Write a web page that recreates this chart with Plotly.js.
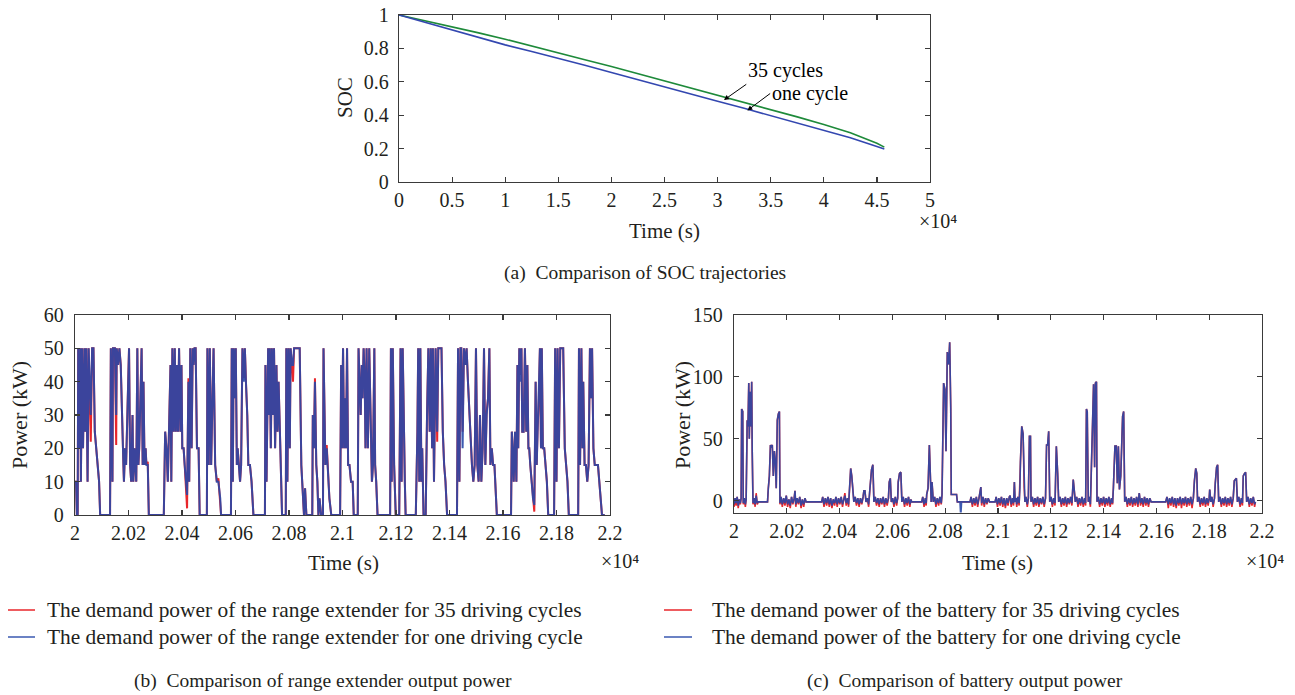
<!DOCTYPE html>
<html>
<head>
<meta charset="utf-8">
<script src="https://cdn.plot.ly/plotly-3.0.1.min.js"></script>
<style>
html,body{margin:0;padding:0;background:#fff;}
#chart{width:1295px;height:695px;}
</style>
</head>
<body>
<div id="chart"></div>
<script>
// ---------- (a) SOC trajectories ----------
const socTime = [0,2500,5000,7500,10000,12500,15000,17500,20000,22500,25000,27500,30000,32500,35000,37500,40000,42500,45000,45700];
const soc35Cycles = [1.0,0.965,0.93,0.893,0.855,0.813,0.771,0.732,0.692,0.649,0.606,0.565,0.523,0.478,0.433,0.39,0.344,0.295,0.232,0.209];
const socOneCycle = [1.0,0.955,0.907,0.864,0.821,0.781,0.742,0.699,0.656,0.612,0.569,0.526,0.483,0.441,0.398,0.355,0.31,0.265,0.212,0.198];
const socTickVals = [0,5000,10000,15000,20000,25000,30000,35000,40000,45000,50000];
const socTickText = ['0','0.5','1','1.5','2','2.5','3','3.5','4','4.5','5'];
const socYTickVals = [0,0.2,0.4,0.6,0.8,1];
const socYTickText = ['0','0.2','0.4','0.6','0.8','1'];

// ---------- (b) range extender power ----------
const reTime = [
20000,20004,20007,20010,20012,20016,20020,20022,20026,20030,20035,20038,20042,20047,20051,20059,20064,20069,20074,20079,20084,20090,20094,20131,20134,20140,20142,20149,20154,20156,
20161,20166,20171,20175,20177,20181,20183,20187,20191,20196,20202,20206,20210,20215,20218,20222,20225,20229,20233,20237,20240,20245,20249,20253,20256,20260,20264,20267,20272,20276,
20332,20337,20342,20347,20352,20357,20360,20364,20369,20373,20377,20381,20385,20389,20394,20398,20401,20406,20410,20414,20419,20424,20427,20431,20436,20440,20443,20447,20451,20456,
20462,20466,20493,20495,20500,20504,20509,20514,20518,20524,20530,20536,20543,20546,20583,20586,20590,20593,20597,20601,20605,20608,20613,20617,20621,20626,20631,20635,20639,20644,
20648,20654,20660,20667,20710,20712,20716,20722,20726,20728,20732,20736,20741,20744,20748,20753,20757,20761,20766,20769,20774,20788,20790,20794,20798,20803,20806,20811,20815,20819,
20840,20846,20852,20856,20860,20865,20887,20889,20893,20897,20902,20906,20910,20914,20920,20927,20929,20933,20936,20941,20946,20951,20958,20991,20995,20998,21002,21006,21010,21013,
21017,21021,21026,21032,21038,21042,21057,21060,21064,21068,21072,21075,21079,21083,21086,21090,21095,21100,21105,21110,21114,21119,21122,21126,21131,21178,21181,21184,21188,21193,
21199,21212,21217,21221,21225,21229,21233,21236,21274,21280,21283,21287,21291,21295,21298,21303,21311,21316,21321,21326,21330,21335,21338,21342,21348,21354,21358,21370,21375,21380,
21385,21391,21428,21432,21437,21441,21444,21449,21454,21459,21464,21469,21474,21479,21484,21489,21494,21499,21504,21509,21514,21519,21524,21529,21534,21539,21544,21549,21553,21558,
21563,21568,21573,21577,21630,21633,21636,21640,21645,21650,21654,21657,21661,21665,21669,21672,21677,21682,21687,21691,21695,21698,21702,21707,21712,21717,21722,21726,21729,21734,
21738,21742,21745,21749,21754,21759,21764,21769,21791,21795,21800,21804,21809,21814,21825,21831,21836,21841,21846,21881,21884,21888,21893,21897,21900,21905,21910,21915,21920,21925,
21929,21933,21938,21943,21949,21955,21960,21965,21970,21980];
const reOneCycle = [
10,10,0,0,50,20,50,10,50,20,50,25,50,10,50,30,50,50,25,20,15,10,0,0,50,10,50,50,30,50,
45,50,45,30,20,15,10,20,15,35,50,15,10,30,10,20,15,10,50,15,20,35,50,15,40,15,20,15,15,0,
0,25,20,10,25,45,10,50,25,50,25,45,25,50,25,45,20,20,15,10,6,40,10,50,20,50,45,50,50,20,
20,0,0,50,15,50,15,35,50,15,10,10,5,0,0,50,10,50,35,50,15,20,15,10,15,50,40,50,40,30,
15,15,10,0,0,45,10,50,30,50,20,50,30,50,20,45,25,40,25,15,0,0,50,10,50,20,50,45,45,50,
50,15,5,0,8,0,0,30,20,40,15,10,0,5,0,0,50,20,15,20,10,5,0,0,45,20,50,20,35,20,
50,15,15,10,10,0,0,50,40,30,45,35,50,40,20,50,20,50,30,10,15,50,15,10,0,0,50,10,50,15,
0,0,50,10,50,20,10,0,0,25,50,10,50,10,20,0,0,30,50,25,50,20,50,10,50,25,50,50,25,15,
10,0,0,50,10,50,50,20,50,45,50,40,30,20,15,10,15,50,15,10,30,10,20,50,15,30,35,50,15,20,
15,15,5,0,0,25,20,10,25,10,45,20,50,40,50,25,25,50,25,45,20,20,15,10,5,3,40,15,25,35,
50,20,50,20,20,15,10,0,0,50,10,50,20,50,50,20,15,10,0,0,50,15,50,20,40,15,15,10,15,50,
35,50,20,15,15,15,10,5,0,0];
const re35Cycles = [
10,10,0,0,50,20,50,10,50,20,50,25,50,10,50,22,50,50,25,20,15,10,0,0,50,10,50,50,21,50,
45,50,45,30,20,15,10,20,15,35,50,15,10,30,10,20,15,10,50,15,20,36,50,15,40,15,20,15,16,0,
0,25,20,10,26,45,10,50,25,50,25,45,25,50,25,45,20,20,15,10,2,41,10,50,20,50,45,50,50,20,
20,0,0,50,15,50,15,35,50,15,10,11,5,0,0,50,10,50,35,50,15,20,15,10,15,50,41,50,40,30,
15,15,10,0,0,45,10,50,30,50,20,50,30,50,20,45,25,40,25,15,0,0,50,10,50,20,50,45,40,50,
50,15,5,0,8,0,0,30,20,41,15,10,0,5,0,0,50,20,15,21,10,5,0,0,45,20,50,20,35,20,
50,15,15,10,10,0,0,50,40,30,45,35,50,42,20,50,20,50,30,10,15,50,15,10,0,0,50,10,50,15,
0,0,50,10,50,20,10,0,0,25,50,10,50,10,20,0,0,30,50,25,50,20,50,10,50,22,50,50,25,15,
10,0,0,50,10,50,50,25,50,45,50,40,30,20,15,10,15,50,15,10,30,10,20,50,15,31,35,50,15,20,
15,15,5,0,0,25,20,10,25,10,45,20,50,42,50,25,25,50,25,45,20,20,15,10,5,1,40,15,25,35,
50,20,50,20,20,15,10,0,0,50,10,50,20,50,50,20,15,10,0,0,50,15,50,20,40,15,15,10,15,50,
35,50,20,15,15,15,10,5,0,0];
const reYTickVals = [0,10,20,30,40,50,60];
const reYTickText = ['0','10','20','30','40','50','60'];

// ---------- (c) battery power ----------
const batTime = [
19995,20000,20004,20008,20012,20016,20020,20024,20027,
20029,20033,20035,20039,20043,20046,
20048,20050,20053,20056,20058,20061,20064,20067,20069,20072,
20076,20080,20084,20088,20092,20127,
20130,20134,20138,20141,20145,20149,20153,20157,20160,20164,20168,20172,20174,
20178,20183,20188,20193,20198,20203,20208,20213,20218,20223,20228,20231,20234,20239,20244,20249,20254,20259,20264,20269,20273,
20332,20336,20341,20346,20351,20356,20361,20366,20371,20376,20381,20386,20391,20396,20401,20406,20411,20416,20420,20425,20430,20434,
20437,20442,20446,20449,20454,20459,20464,20469,20474,20479,20484,20489,
20492,20496,20500,20505,20510,20515,20521,20526,20530,
20535,20540,20545,20550,20555,20560,20565,20570,20575,20580,20585,20588,20592,20596,
20601,20606,20611,20616,20620,20622,20627,20632,20636,
20641,20646,20651,20656,20661,20666,20670,20673,20711,20715,20720,20725,20728,
20730,20735,20740,20744,20747,20750,20755,
20760,20765,20770,20775,20780,20785,
20788,20790,20794,20799,20803,20808,20813,20817,20821,20823,20843,20846,20856,20858,20860,20862,20894,
20898,20903,20908,20913,20918,20923,20928,20935,20938,20943,20948,20953,20958,20963,20968,20989,
20993,20998,21003,21008,21013,21018,21023,21028,21033,21038,21043,21046,21050,21055,21059,
21062,21065,21068,21071,21075,21080,21083,21085,21090,21095,21099,21102,
21106,21111,21115,21119,21123,21125,
21130,21135,21140,21145,21150,21155,21160,21165,21170,21175,21180,
21184,21188,21192,21196,21201,21206,21211,21216,21221,21226,21230,
21235,21240,21245,21250,21255,21260,21265,21270,21275,21280,21285,21290,21293,
21298,21303,21308,21313,21318,21323,21328,21332,21335,21338,21342,21346,21350,
21355,21359,21362,21366,21369,21373,21375,
21380,21385,21390,21395,21400,21405,21410,21415,21420,21425,21430,21434,
21437,21443,21448,21452,21456,21460,21465,21469,21472,21476,21480,
21485,21490,21495,21500,21505,21510,21515,21520,21525,21530,21535,21540,21545,21550,21555,21560,21565,21570,21575,21580,21635,
21640,21645,21650,21655,21660,21665,21670,21675,21680,21685,21690,21695,21700,21705,21710,21715,21720,21725,21730,21735,21740,
21744,21749,21753,21756,21761,21766,21771,21776,21781,21786,21791,21796,21800,21802,21806,
21810,21815,21820,21823,21828,21832,21836,
21841,21846,21851,21856,21861,21866,21871,21876,21881,21886,21891,21895,21899,21903,21907,
21912,21917,21922,21926,21929,21934,21938,21942,21947,21952,21957,21962,21967,21972,21975];
const batOneCycle = [
1,-3,2,-2,3,-4,1,-2,2,
74,72,-2,2,-3,1,
40,65,60,95,50,88,60,96,40,-2,
2,-3,4,-2,-1,-1,
10,20,45,43,45,20,40,30,10,65,70,72,-2,
3,-3,2,-2,4,-3,1,-4,3,-2,2,8,-3,2,-2,3,-4,1,-3,2,-1,
-1,3,-3,2,-2,3,-3,2,-4,1,-2,3,-3,2,-2,3,-3,2,4,-2,2,-3,
10,26,20,10,-1,3,-2,2,-3,2,-2,3,
8,8,-1,2,-3,10,25,29,-1,
3,-2,2,-3,2,-2,3,-3,2,-2,2,15,18,-1,
2,-3,3,-2,2,15,22,23,-1,
3,-3,2,-2,3,-3,1,-1,-1,3,-3,2,-2,
5,10,45,15,-1,15,-1,
3,-3,2,-2,3,-2,
5,55,95,90,40,120,110,128,75,5,5,-1,-1,-9,-9,-1,-1,
3,-3,2,-2,3,-3,2,11,-2,3,-3,2,-2,2,-1,-1,
3,-3,2,-2,3,-3,2,-4,2,-2,3,4,-3,2,-2,
15,-1,2,-3,3,-2,10,31,60,54,11,-1,
3,-3,2,52,52,-1,
3,-3,2,-2,3,-3,2,-2,3,-3,2,
45,45,56,-1,3,-3,2,-2,44,22,-1,
3,-3,2,-2,3,-3,2,-2,3,-2,17,7,-1,
3,-3,2,-2,3,-3,2,-2,74,72,-1,3,-3,
49,66,94,27,95,96,-1,
3,-3,2,-2,3,-3,2,-2,3,-3,2,-2,
10,44,44,14,44,9,20,60,68,72,-1,
3,-3,2,-2,3,-3,2,-2,3,-3,6,-2,2,-3,3,-2,2,-3,2,-1,-1,
3,-3,2,-2,3,-3,2,-4,2,-2,3,-3,2,-2,3,-3,2,-2,3,-3,2,
16,26,22,-1,3,-3,2,-2,3,-3,2,-2,2,9,-1,
3,-3,2,14,27,29,-1,
3,-3,2,-2,3,-3,2,-2,3,-3,2,16,17,18,-1,
3,-3,2,-2,20,22,23,-1,3,-3,2,-2,3,-3,-1];
const bat35Cycles = [
1,-5,2,-4,3,-6,1,-3,2,
74,72,-3,2,-5,1,
40,65,60,95,50,88,60,96,40,-3,
2,-5,6,-3,-1,-1,
10,20,45,43,45,20,40,30,10,65,70,72,-3,
3,-5,2,-4,4,-5,1,-6,3,-3,2,8,-5,2,-3,3,-6,1,-5,2,-1,
-1,3,-5,2,-4,3,-5,2,-6,1,-4,3,-5,2,-3,3,-5,2,6,-4,2,-5,
10,26,20,10,-1,3,-4,2,-5,2,-3,3,
8,8,-1,2,-5,10,25,29,-1,
3,-4,2,-5,2,-3,3,-5,2,-4,2,15,18,-1,
2,-5,3,-4,2,15,22,23,-1,
3,-5,2,-4,3,-5,1,-1,-1,3,-5,2,-4,
5,10,45,15,-1,15,-1,
3,-5,2,-4,3,-3,
5,55,95,90,40,120,110,128,75,5,5,-1,-1,-1,-1,-1,-1,
3,-5,2,-4,3,-5,2,11,-4,3,-5,2,-3,2,-1,-1,
3,-5,2,-4,3,-5,2,-6,2,-4,3,4,-5,2,-4,
15,-1,2,-5,3,-4,10,31,60,54,11,-1,
3,-5,2,52,52,-1,
3,-5,2,-4,3,-5,2,-3,3,-5,2,
45,45,56,-1,3,-5,2,-4,44,22,-1,
3,-5,2,-4,3,-5,2,-3,3,-4,17,7,-1,
3,-5,2,-4,3,-5,2,-4,74,72,-1,3,-5,
49,66,94,27,95,96,-1,
3,-5,2,-4,3,-5,2,-4,3,-5,2,-3,
10,44,44,14,44,9,20,60,68,72,-1,
3,-5,2,-4,3,-5,2,-4,3,-5,6,-4,2,-5,3,-4,2,-5,2,-1,-1,
3,-6,2,-4,3,-5,2,-6,2,-4,3,-6,2,-4,3,-5,2,-4,3,-6,2,
16,26,22,-1,3,-5,2,-4,3,-5,2,-4,2,9,-1,
3,-5,2,14,27,29,-1,
3,-5,2,-4,3,-5,2,-4,3,-5,2,16,17,18,-1,
3,-5,2,-4,20,22,23,-1,3,-5,2,-4,3,-5,-1];
const batYTickVals = [0,50,100,150];
const batYTickText = ['0','50','100','150'];

const powTickVals = [20000,20200,20400,20600,20800,21000,21200,21400,21600,21800,22000];
const powTickText = ['2','2.02','2.04','2.06','2.08','2.1','2.12','2.14','2.16','2.18','2.2'];

const legendB = ['The demand power of the range extender for 35 driving cycles','The demand power of the range extender for one driving cycle'];
const legendC = ['The demand power of the battery for 35 driving cycles','The demand power of the battery for one driving cycle'];
const captions = ['(a)  Comparison of SOC trajectories','(b)  Comparison of range extender output power','(c)  Comparison of battery output power'];

// ---------- drawing ----------
const W = 1295, H = 695;
const px = v => v / W;
const py = v => 1 - v / H;
const FONT = 'Liberation Serif, Times New Roman, serif';
const INK = '#231f20';
const RED = '#e8262b';
const BLUE = 'rgba(40,72,168,0.9)';

const traces = [
  {x: socTime, y: soc35Cycles, xaxis: 'x', yaxis: 'y', type: 'scatter', mode: 'lines', line: {color: '#1e8a3a', width: 1.6}, hoverinfo: 'skip'},
  {x: socTime, y: socOneCycle, xaxis: 'x', yaxis: 'y', type: 'scatter', mode: 'lines', line: {color: '#3347b0', width: 1.6}, hoverinfo: 'skip'},
  {x: reTime, y: re35Cycles, xaxis: 'x2', yaxis: 'y2', type: 'scatter', mode: 'lines', line: {color: RED, width: 2}, hoverinfo: 'skip'},
  {x: reTime, y: reOneCycle, xaxis: 'x2', yaxis: 'y2', type: 'scatter', mode: 'lines', line: {color: BLUE, width: 2}, hoverinfo: 'skip'},
  {x: batTime, y: bat35Cycles, xaxis: 'x3', yaxis: 'y3', type: 'scatter', mode: 'lines', line: {color: RED, width: 1.6}, hoverinfo: 'skip'},
  {x: batTime, y: batOneCycle, xaxis: 'x3', yaxis: 'y3', type: 'scatter', mode: 'lines', line: {color: BLUE, width: 1.6}, hoverinfo: 'skip'}
];

function ax(extra) {
  return Object.assign({
    showline: true, linecolor: '#3a3a3a', linewidth: 1.3, mirror: 'ticks',
    ticks: 'inside', ticklen: 5, tickwidth: 1.2, tickcolor: '#3a3a3a',
    showgrid: false, zeroline: false, fixedrange: true,
    tickfont: {family: FONT, size: 20, color: INK}, tickmode: 'array'
  }, extra);
}

const annotations = [];
function txt(text, x, y, size, opts) {
  annotations.push(Object.assign({text: text, x: px(x), y: py(y), xref: 'paper', yref: 'paper', showarrow: false,
    font: {family: FONT, size: size, color: INK}, xanchor: 'center', yanchor: 'middle'}, opts || {}));
}
// axis titles
txt('Time (s)', 664, 231, 21);
txt('Time (s)', 343, 563, 21);
txt('Time (s)', 998, 563, 21);
txt('SOC', 345, 98, 21, {textangle: -90});
txt('Power (kW)', 20, 415, 22, {textangle: -90});
txt('Power (kW)', 683, 415, 22, {textangle: -90});
txt('×10⁴', 938, 221, 20);
txt('×10⁴', 620, 561, 20);
txt('×10⁴', 1265, 561, 20);
// captions
txt(captions[0], 645, 273, 19.5);
txt(captions[1], 323, 681, 19.5);
txt(captions[2], 965, 681, 19.5);
// legends
txt(legendB[0], 45, 610, 21.4, {xanchor: 'left'});
txt(legendB[1], 45, 637, 21.4, {xanchor: 'left'});
txt(legendC[0], 710, 610, 21.4, {xanchor: 'left'});
txt(legendC[1], 710, 637, 21.4, {xanchor: 'left'});
// SOC labels with arrows
annotations.push({text: '35 cycles', x: 30600, y: 0.491, xref: 'x', yref: 'y', axref: 'x', ayref: 'y', ax: 32700, ay: 0.585,
  xanchor: 'left', yanchor: 'bottom', showarrow: true, arrowhead: 2, arrowsize: 1, arrowwidth: 1, arrowcolor: '#000',
  font: {family: FONT, size: 20, color: '#000'}});
annotations.push({text: 'one cycle', x: 32800, y: 0.428, xref: 'x', yref: 'y', axref: 'x', ayref: 'y', ax: 34950, ay: 0.53,
  xanchor: 'left', yanchor: 'middle', showarrow: true, arrowhead: 2, arrowsize: 1, arrowwidth: 1, arrowcolor: '#000',
  font: {family: FONT, size: 20, color: '#000'}});

const shapes = [
  {type: 'line', xref: 'paper', yref: 'paper', x0: px(8), x1: px(35), y0: py(610), y1: py(610), line: {color: RED, width: 1.5}},
  {type: 'line', xref: 'paper', yref: 'paper', x0: px(8), x1: px(35), y0: py(637), y1: py(637), line: {color: '#3a58b0', width: 1.5}},
  {type: 'line', xref: 'paper', yref: 'paper', x0: px(664), x1: px(692), y0: py(610), y1: py(610), line: {color: RED, width: 1.5}},
  {type: 'line', xref: 'paper', yref: 'paper', x0: px(664), x1: px(692), y0: py(637), y1: py(637), line: {color: '#3a58b0', width: 1.5}}
];

const layout = {
  width: W, height: H,
  margin: {l: 0, r: 0, t: 0, b: 0},
  paper_bgcolor: '#fff', plot_bgcolor: '#fff',
  showlegend: false,
  xaxis: ax({domain: [px(399), px(930)], anchor: 'y', range: [0, 50000], tickvals: socTickVals, ticktext: socTickText}),
  yaxis: ax({domain: [py(182), py(15)], anchor: 'x', range: [0, 1], tickvals: socYTickVals, ticktext: socYTickText, ticklabelstandoff: 5}),
  xaxis2: ax({domain: [px(75), px(610)], anchor: 'y2', range: [20000, 22000], tickvals: powTickVals, ticktext: powTickText}),
  yaxis2: ax({domain: [py(515), py(315)], anchor: 'x2', range: [0, 60], tickvals: reYTickVals, ticktext: reYTickText, ticklabelstandoff: 6}),
  xaxis3: ax({domain: [px(734), px(1262)], anchor: 'y3', range: [20000, 22000], tickvals: powTickVals, ticktext: powTickText}),
  yaxis3: ax({domain: [py(513), py(315)], anchor: 'x3', range: [-10, 150], tickvals: batYTickVals, ticktext: batYTickText, ticklabelstandoff: 6}),
  annotations: annotations,
  shapes: shapes
};

Plotly.newPlot('chart', traces, layout, {displayModeBar: false, staticPlot: true});
</script>
</body>
</html>
